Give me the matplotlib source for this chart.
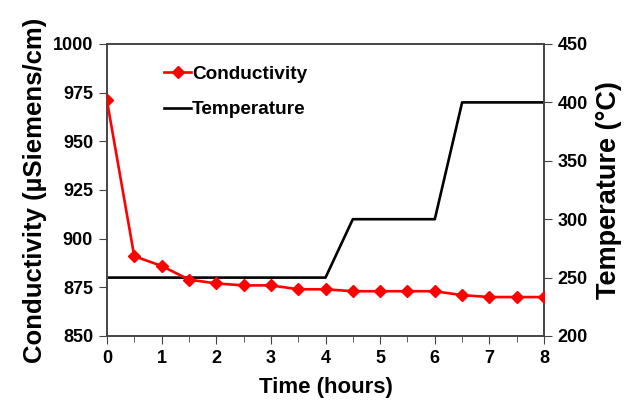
import numpy as np
import matplotlib
matplotlib.use("Agg")
import matplotlib.pyplot as plt
from matplotlib.ticker import MultipleLocator

plt.rcParams['font.family'] = ['Liberation Sans', 'DejaVu Sans']
plt.rcParams['font.weight'] = 'bold'

# data
time_h = [0, 0.5, 1, 1.5, 2, 2.5, 3, 3.5, 4, 4.5, 5, 5.5, 6, 6.5, 7, 7.5, 8]
conductivity = [971, 891, 886, 879, 877, 876, 876, 874, 874, 873, 873, 873, 873, 871, 870, 870, 870]
temperature = [250, 250, 250, 250, 250, 250, 250, 250, 250, 300, 300, 300, 300, 400, 400, 400, 400]

fig = plt.figure(figsize=(6.29, 4.0), dpi=100)
ax = fig.add_axes([0.170, 0.16, 0.695, 0.73])
ax2 = ax.twinx()

l2, = ax2.plot(time_h, temperature, color='black', lw=1.9, label='Temperature', zorder=2)
l1, = ax.plot(time_h, conductivity, color='red', lw=1.9, marker='D', ms=6,
              label='Conductivity', zorder=3)
ax.set_zorder(ax2.get_zorder() + 1)
ax.patch.set_visible(False)

ax.set_xlim(0, 8)
ax.set_ylim(850, 1000)
ax2.set_ylim(200, 450)
ax.xaxis.set_major_locator(MultipleLocator(1))
ax.xaxis.set_minor_locator(MultipleLocator(0.5))
ax.yaxis.set_major_locator(MultipleLocator(25))
ax2.yaxis.set_major_locator(MultipleLocator(50))

spine_col = '#444444'
for a in (ax, ax2):
    for s in a.spines.values():
        s.set_color(spine_col)
        s.set_linewidth(1.2)
ax.tick_params(axis='both', which='both', direction='out', color=spine_col, labelsize=13, pad=4)
ax.tick_params(axis='x', which='major', length=6)
ax.tick_params(axis='x', which='minor', length=4)
ax.tick_params(axis='y', length=6)
ax2.tick_params(axis='y', direction='out', color=spine_col, length=6, labelsize=13)

ax.set_xlabel('Time (hours)', fontsize=16, fontweight='bold', labelpad=7)
ax.set_ylabel('Conductivity (µSiemens/cm)', fontsize=18.5, fontweight='bold', labelpad=4)
ax2.set_ylabel('Temperature (°C)', fontsize=19.5, fontweight='bold', labelpad=6)

leg = ax.legend(handles=[l1, l2], loc='upper left', bbox_to_anchor=(0.092, 0.985),
                frameon=False, fontsize=13.7, handlelength=1.4, handletextpad=0.05,
                labelspacing=0.95)

fig.savefig('out.png', dpi=100)
